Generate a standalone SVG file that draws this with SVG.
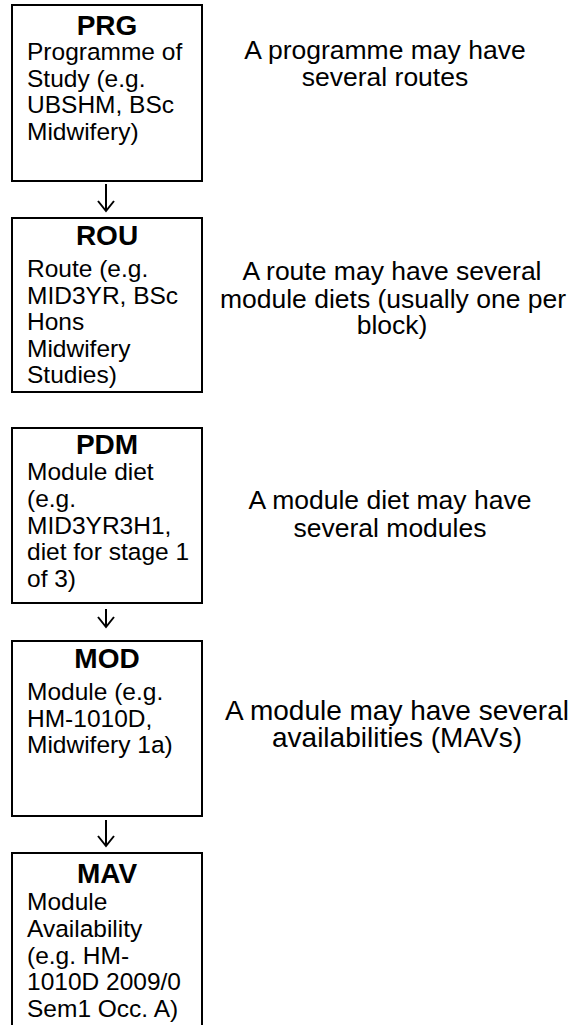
<svg xmlns="http://www.w3.org/2000/svg" width="581" height="1025" viewBox="0 0 581 1025">
<style>
.box{fill:#fff;stroke:#000;stroke-width:2}
.t{font-family:"Liberation Sans",Arial,sans-serif;font-weight:bold;font-size:28px;text-anchor:middle;fill:#000}
.b{font-family:"Liberation Sans",Arial,sans-serif;font-size:24.5px;fill:#000}
.n{font-family:"Liberation Sans",Arial,sans-serif;font-size:26.5px;text-anchor:middle;fill:#000}
.n2{font-size:28px}
.c{stroke:#000;stroke-width:2;fill:none}
</style>
<defs>
<marker id="ah" viewBox="-12 -10 14 20" markerWidth="14" markerHeight="20" refX="0" refY="0" orient="auto" markerUnits="userSpaceOnUse" overflow="visible">
<path d="M-10,-8 L0,0 L-10,8" fill="none" stroke="#000" stroke-width="2"/>
</marker>
</defs>
<rect width="581" height="1025" fill="#fff"/>
<g id="connectors">
<line class="c" x1="106" y1="184" x2="106" y2="211" marker-end="url(#ah)"/>
<line class="c" x1="106" y1="609" x2="106" y2="627" marker-end="url(#ah)"/>
<line class="c" x1="106" y1="820" x2="106" y2="846" marker-end="url(#ah)"/>
</g>
<g id="PRG">
<rect class="box" x="12" y="5" width="190" height="176"/>
<text class="t" x="107" y="35">PRG</text>
<text class="b" x="27" y="60">Programme of</text>
<text class="b" x="27" y="86.7">Study (e.g.</text>
<text class="b" x="27" y="113.3">UBSHM, BSc</text>
<text class="b" x="27" y="140">Midwifery)</text>
</g>
<g id="ROU">
<rect class="box" x="12" y="218" width="190" height="174"/>
<text class="t" x="107" y="245">ROU</text>
<text class="b" x="27" y="277">Route (e.g.</text>
<text class="b" x="27" y="303.5">MID3YR, BSc</text>
<text class="b" x="27" y="330">Hons</text>
<text class="b" x="27" y="356.5">Midwifery</text>
<text class="b" x="27" y="383">Studies)</text>
</g>
<g id="PDM">
<rect class="box" x="12" y="428" width="190" height="175"/>
<text class="t" x="107" y="454">PDM</text>
<text class="b" x="27" y="480">Module diet</text>
<text class="b" x="27" y="507">(e.g.</text>
<text class="b" x="27" y="533.5">MID3YR3H1,</text>
<text class="b" x="27" y="560">diet for stage 1</text>
<text class="b" x="27" y="587">of 3)</text>
</g>
<g id="MOD">
<rect class="box" x="12" y="641" width="190" height="175"/>
<text class="t" x="107" y="668">MOD</text>
<text class="b" x="27" y="700">Module (e.g.</text>
<text class="b" x="27" y="727">HM-1010D,</text>
<text class="b" x="27" y="753">Midwifery 1a)</text>
</g>
<g id="MAV">
<rect class="box" x="12" y="853" width="190" height="190"/>
<text class="t" x="107" y="883">MAV</text>
<text class="b" x="27" y="910">Module</text>
<text class="b" x="27" y="937">Availability</text>
<text class="b" x="27" y="963.5">(e.g. HM-</text>
<text class="b" x="27" y="990">1010D 2009/0</text>
<text class="b" x="27" y="1017">Sem1 Occ. A)</text>
</g>
<g id="notes">
<text class="n" x="385" y="59">A programme may have</text>
<text class="n" x="385" y="86">several routes</text>
<text class="n" x="392" y="280">A route may have several</text>
<text class="n" x="393" y="307.5">module diets (usually one per</text>
<text class="n" x="392" y="334">block)</text>
<text class="n" x="390" y="509">A module diet may have</text>
<text class="n" x="390" y="537">several modules</text>
<text class="n n2" x="397" y="720">A module may have several</text>
<text class="n n2" x="397" y="747">availabilities (MAVs)</text>
</g>
</svg>
